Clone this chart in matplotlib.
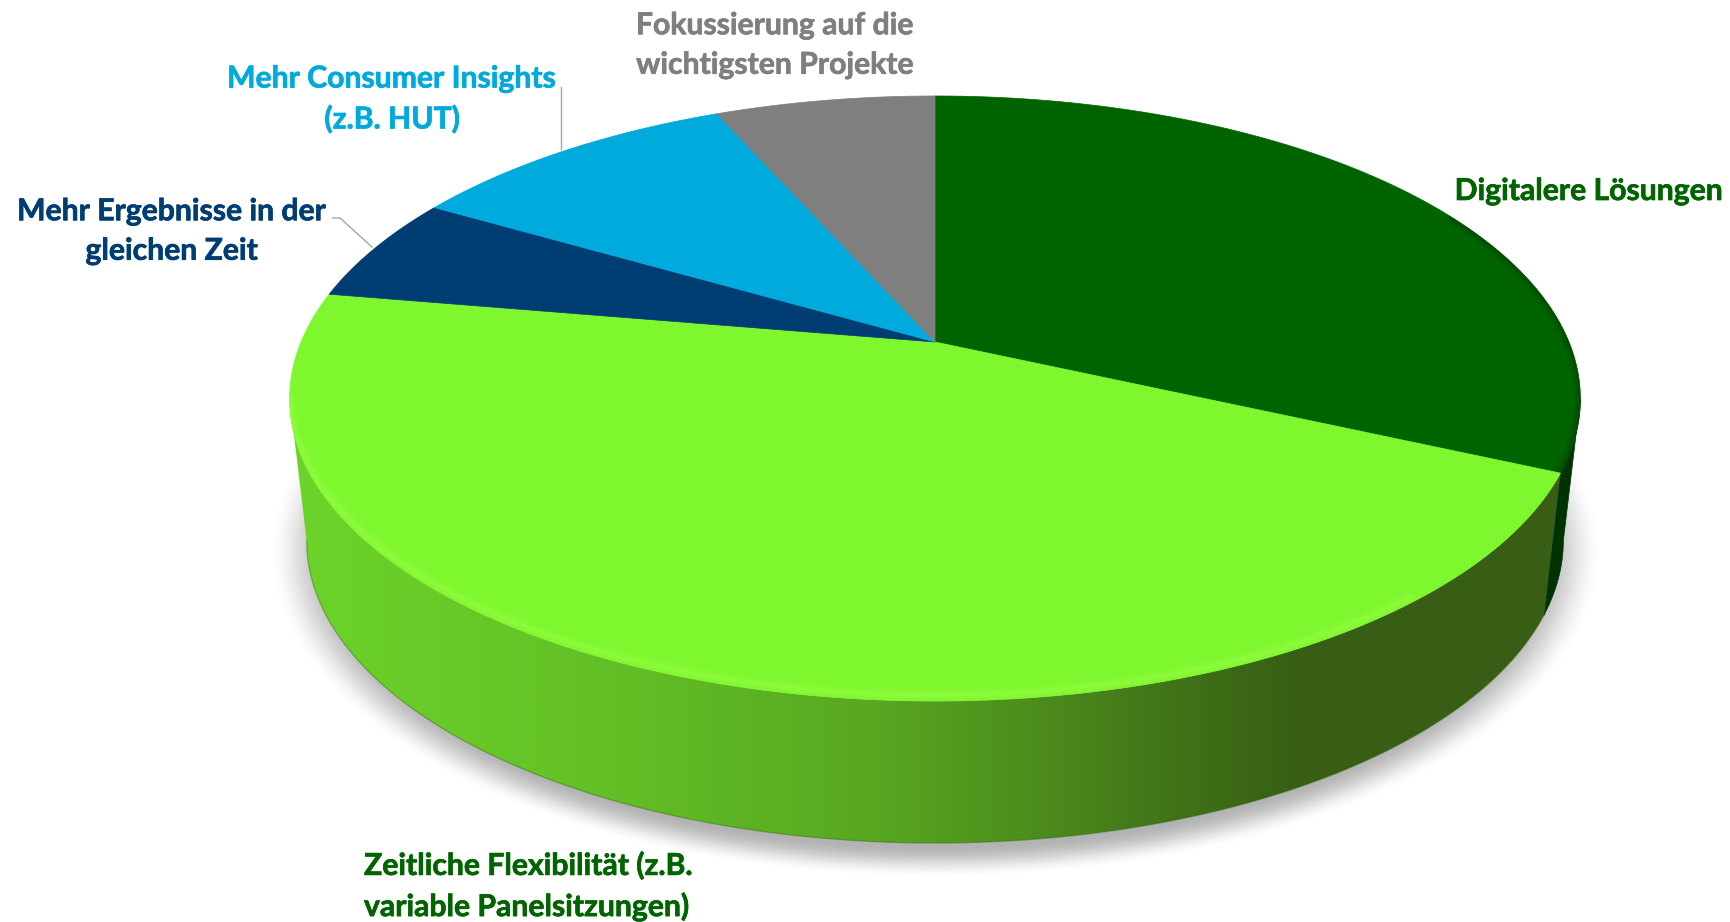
#!/usr/bin/env python3
# -*- coding: utf-8 -*-
import numpy as np
import matplotlib
matplotlib.use('Agg')
import matplotlib.pyplot as plt
import matplotlib.patheffects as pe
from matplotlib.colors import LinearSegmentedColormap
from matplotlib.patches import Polygon

plt.rcParams['font.family'] = ['Lato', 'DejaVu Sans']

# Daten (im Uhrzeigersinn ab 12 Uhr)
categories = ['Digitalere Lösungen', 'Zeitliche Flexibilität (z.B.\nvariable Panelsitzungen)',
              'Mehr Ergebnisse in der\ngleichen Zeit', 'Mehr Consumer Insights\n(z.B. HUT)',
              'Fokussierung auf die\nwichtigsten Projekte']
values = [31.8, 45.9, 5.7, 10.0, 6.6]
colors = ['#006400', '#7ff72f', '#003d73', '#00aadc', '#7f7f7f']

W, H = 1731, 922
# Perspektive der Deckfläche (Pixel)
CX, CY = 935, 342
A, K, C = -228.1, 0.1868, 634
TOP_MID, BOT_MID = 398, 540
BOT_SCALE = 628 / 645


def top_pts(t):
    x, y = np.sin(t), np.cos(t)
    d = 1 + K * y
    return CX + C * x / d, (A * y + CY) / d


def bot_pts(t):
    x, y = top_pts(t)
    return CX + (x - CX) * BOT_SCALE, y - TOP_MID + BOT_MID


def strip(t):
    x1, y1 = top_pts(t)
    x2, y2 = bot_pts(t[::-1])
    return np.column_stack([np.r_[x1, x2], np.r_[y1, y2]])


fig = plt.figure(figsize=(W / 100, H / 100), dpi=100)
ax = fig.add_axes([0, 0, 1, 1])
ax.set_xlim(0, W)
ax.set_ylim(H, 0)
ax.axis('off')

edges = np.radians(np.r_[0, np.cumsum(values)] / sum(values) * 360)
# Winkel, an denen die Seitenwand den Umriss bildet
sil_right = np.arccos(-K)
sil_left = 2 * np.pi - sil_right

# weicher Schatten
xx, yy = np.meshgrid(np.arange(W), np.arange(H))
dist = np.sqrt(((xx - CX) / 668) ** 2 + ((yy - 552) / 326) ** 2)
s = np.clip((1.0 - dist) / 0.10, 0, 1)
shadow = np.zeros((H, W, 4))
shadow[..., 3] = 0.30 * s * s * (3 - 2 * s)
ax.imshow(shadow, extent=(0, W, H, 0), zorder=1, aspect='auto')

# Seitenwand dunkelgrün
t = np.linspace(sil_right, edges[1], 100)
ax.add_patch(Polygon(strip(t), closed=True, fc='#003300', ec='#003300', lw=0.5, zorder=2))

# Seitenwand hellgrün mit Verlauf
t = np.linspace(edges[1], sil_left, 600)
side = Polygon(strip(t), closed=True, fc='none', ec='none', zorder=3)
ax.add_patch(side)
cmap = LinearSegmentedColormap.from_list('side', [
    (0.00, '#6dd42a'), (0.25, '#63bf26'), (0.45, '#58a821'), (0.58, '#4c8c1c'),
    (0.70, '#3f6f17'), (0.78, '#375e14'), (1.00, '#385f14')])
grad = ax.imshow(np.linspace(0, 1, 512)[None, :], extent=(280, 1590, 860, 300),
                 cmap=cmap, aspect='auto', zorder=3)
grad.set_clip_path(side)
ax.set_xlim(0, W)
ax.set_ylim(H, 0)

# dünne Unterkante
bx, by = bot_pts(t)
ax.plot(bx, by, color='#2f6a10', lw=1, alpha=0.4, zorder=4)

# Deckflächen
for i, col in enumerate(colors):
    t = np.linspace(edges[i], edges[i + 1], 300)
    x, y = top_pts(t)
    wedge = Polygon(np.column_stack([np.r_[CX, x], np.r_[CY, y]]), closed=True,
                    fc=col, ec=col, lw=0.5, zorder=5)
    ax.add_patch(wedge)
    if i == 0:
        # dunkler Rand rechts
        tt = np.linspace(np.radians(62), edges[1], 200)
        x, y = top_pts(tt)
        for lw, al in [(10, 0.10), (6, 0.15), (3, 0.2)]:
            ln, = ax.plot(x, y, color='#002a00', lw=lw, alpha=al, zorder=6,
                          solid_capstyle='butt')
            ln.set_clip_path(wedge)
    if i == 1:
        # heller Streifen vorne
        tt = np.linspace(np.radians(140), np.radians(258), 300)
        x, y = top_pts(tt)
        for lw, al in [(8, 0.18), (5, 0.25), (2.5, 0.3)]:
            ln, = ax.plot(x, y - 6, color='#96ff42', lw=lw, alpha=al, zorder=6,
                          solid_capstyle='round')
            ln.set_clip_path(wedge)

# Führungslinien
ax.plot([561.5, 561.5], [87, 149], color='#a6a6a6', lw=1, zorder=7)
ax.plot([332.5, 340, 372], [218, 218, 247], color='#a6a6a6', lw=1, zorder=7)

# Beschriftung
fs = 21.7
spacing = 1.5
text_cols = ['#006400', '#006400', '#003d73', '#00aadc', '#7f7f7f']
text_pos = [(1589, 191, 'center'), (364, 886, 'left'), (172, 231, 'center'),
            (392, 99, 'center'), (775, 45, 'center')]
for label, col, (tx, ty, ha) in zip(categories, text_cols, text_pos):
    ax.text(tx, ty, label, color=col, fontsize=fs, fontweight='bold', ha=ha, va='center',
            linespacing=spacing, path_effects=[pe.withStroke(linewidth=0.5, foreground=col)])

plt.savefig('out.png', dpi=100)
plt.close()
